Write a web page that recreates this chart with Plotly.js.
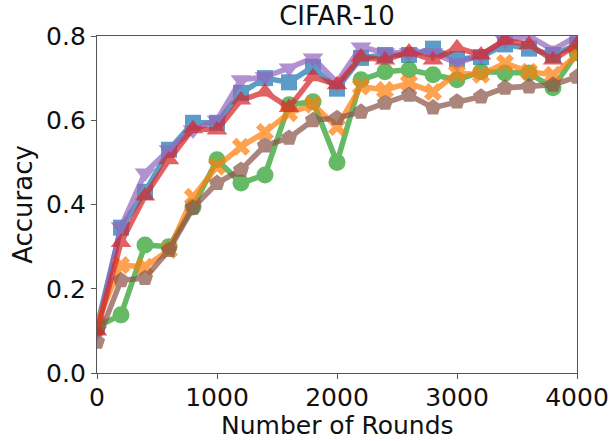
<!DOCTYPE html>
<html>
<head>
<meta charset="utf-8">
<script src="https://cdn.plot.ly/plotly-3.0.1.min.js"></script>
<style>html,body{margin:0;padding:0;background:#fff;}#chart{width:615px;height:441px;}</style>
</head>
<body>
<div id="chart"></div>
<script>
const rounds = [0,200,400,600,800,1000,1200,1400,1600,1800,2000,2200,2400,2600,2800,3000,3200,3400,3600,3800,4000];
const blueVals   = [0.11,0.345,0.43,0.53,0.594,0.594,0.665,0.70,0.69,0.727,0.675,0.748,0.755,0.755,0.77,0.745,0.75,0.78,0.77,0.755,0.78];
const purpleVals = [0.10,0.347,0.475,0.53,0.577,0.60,0.696,0.703,0.724,0.748,0.69,0.774,0.76,0.76,0.76,0.736,0.755,0.79,0.80,0.767,0.80];
const greenVals  = [0.11,0.138,0.304,0.30,0.394,0.506,0.451,0.47,0.637,0.644,0.50,0.696,0.715,0.72,0.708,0.696,0.715,0.712,0.712,0.677,0.76];
const orangeVals = [0.12,0.256,0.252,0.292,0.418,0.49,0.537,0.572,0.617,0.637,0.584,0.68,0.672,0.688,0.667,0.712,0.708,0.736,0.715,0.708,0.755];
const brownVals  = [0.074,0.22,0.225,0.292,0.392,0.451,0.482,0.54,0.558,0.60,0.605,0.62,0.641,0.66,0.63,0.644,0.656,0.677,0.68,0.684,0.703];
const redVals    = [0.10,0.31,0.42,0.506,0.58,0.577,0.648,0.667,0.63,0.703,0.684,0.75,0.743,0.762,0.743,0.772,0.755,0.79,0.78,0.743,0.78];
const xTitle = 'Number of Rounds';
const yTitle = 'Accuracy';
const chartTitle = 'CIFAR-10';

const seriesDefs = [
  {y: blueVals,   color: '#1f77b4', symbol: 'square',        size: 16},
  {y: purpleVals, color: '#9467bd', symbol: 'triangle-down', size: 18},
  {y: greenVals,  color: '#2ca02c', symbol: 'circle',        size: 17},
  {y: orangeVals, color: '#ff7f0e', symbol: 'x',             size: 16},
  {y: brownVals,  color: '#8c564b', symbol: 'pentagon',      size: 17},
  {y: redVals,    color: '#d62728', symbol: 'triangle-up',   size: 18}
];

const traces = seriesDefs.map(s => ({
  x: rounds, y: s.y, type: 'scatter', mode: 'lines+markers',
  line: {color: s.color, width: 5.5},
  marker: {color: s.color, symbol: s.symbol, size: s.size, line: {width: 0}},
  opacity: 0.72, showlegend: false, cliponaxis: true
}));

const fontFam = 'DejaVu Sans, sans-serif';
const layout = {
  width: 615, height: 441,
  margin: {l: 97, r: 38, t: 36, b: 68},
  paper_bgcolor: '#fff', plot_bgcolor: '#fff',
  title: {text: chartTitle, font: {family: fontFam, size: 26, color: '#111'}, x: 0.548, xanchor: 'center', y: 0.985, yanchor: 'top'},
  xaxis: {
    range: [0, 4000], tickvals: [0,1000,2000,3000,4000], ticktext: ['0','1000','2000','3000','4000'],
    showgrid: false, zeroline: false, showline: true, linecolor: '#555', linewidth: 1.2, mirror: true,
    ticks: 'outside', ticklen: 5, tickcolor: '#555', ticklabelstandoff: -3,
    tickfont: {family: fontFam, size: 25, color: '#111'}
  },
  yaxis: {
    range: [0, 0.8], tickvals: [0,0.2,0.4,0.6,0.8], ticktext: ['0.0','0.2','0.4','0.6','0.8'],
    showgrid: false, zeroline: false, showline: true, linecolor: '#555', linewidth: 1.2, mirror: true,
    ticks: 'outside', ticklen: 5, tickcolor: '#555',
    tickfont: {family: fontFam, size: 25, color: '#111'},
    title: {text: yTitle, font: {family: fontFam, size: 26, color: '#111'}, standoff: 6}
  },
  annotations: [{
    text: xTitle, xref: 'paper', yref: 'paper', x: 0.5, y: -0.2015,
    xanchor: 'center', yanchor: 'bottom', showarrow: false, borderpad: 0,
    font: {family: fontFam, size: 25, color: '#111'}
  }]
};

Plotly.newPlot('chart', traces, layout, {staticPlot: true, displayModeBar: false});
</script>
</body>
</html>
